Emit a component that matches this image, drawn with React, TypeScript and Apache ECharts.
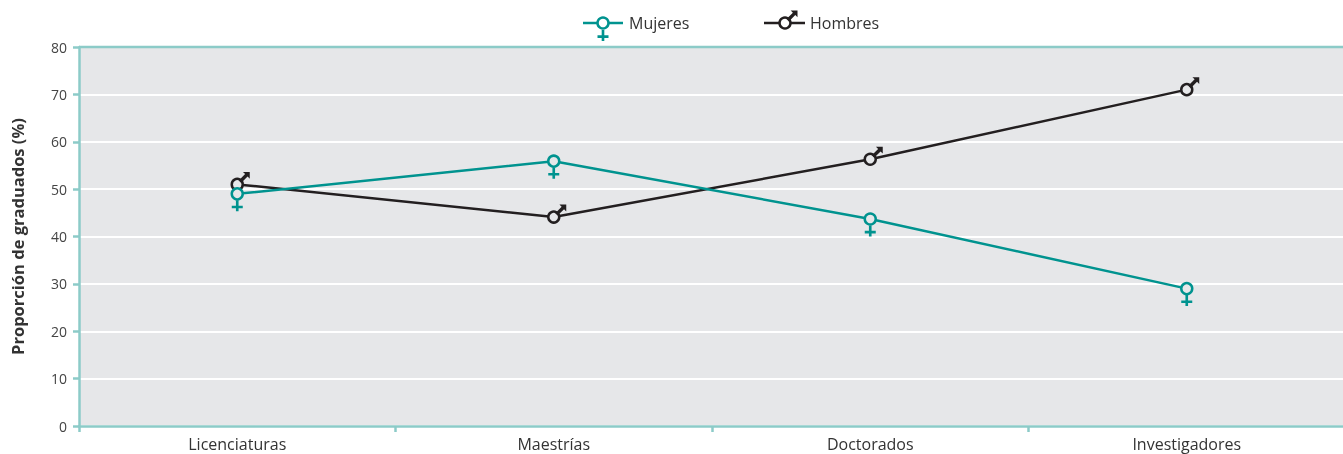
import React, { useEffect, useRef } from "react";
import * as echarts from "echarts";

const categories = ["Licenciaturas", "Maestrías", "Doctorados", "Investigadores"];
const mujeres = [49.0, 55.9, 43.7, 29.0];
const hombres = [51.0, 44.1, 56.3, 71.0];
const seriesNames = ["Mujeres", "Hombres"];
const yTicks = { min: 0, max: 80, interval: 10 };

const TEAL = "#00938f";
const BLACK = "#231f20";
const AXIS = "#8ccbc8";
const BG = "#e6e7e9";
const FONT = "'Open Sans', 'Noto Sans', sans-serif";

const VENUS_PATH = "path://M3.8,0H6.2V4.8H10V7.2H6.2V10H3.8V7.2H0V4.8H3.8Z";
const MARS_PATH = "path://M3.5,0L10,0L10,6.5L7.9,4.4L1.8,10.5L-0.5,8.2L5.6,2.1Z";

const venusPts = [[3.8,0],[6.2,0],[6.2,4.8],[10,4.8],[10,7.2],[6.2,7.2],[6.2,10],[3.8,10],[3.8,7.2],[0,7.2],[0,4.8],[3.8,4.8]];
const marsPts = [[3.5,0],[10,0],[10,6.5],[7.9,4.4],[1.8,10.5],[-0.5,8.2],[5.6,2.1]];

function pts(list: number[][], x0: number, y0: number, s: number) {
  return list.map(([x, y]) => [x0 + x * s, y0 + y * s]);
}

export default function App() {
  const ref = useRef<HTMLDivElement>(null);
  useEffect(() => {
    const chart = echarts.init(ref.current!, null, { renderer: "svg" });
    const legendY = 23;
    const mx = 603;
    const hx = 785;
    chart.setOption({
      animation: false,
      grid: {
        left: 79,
        right: -2,
        top: 47,
        bottom: 28,
        show: true,
        backgroundColor: BG,
        borderWidth: 0,
        outerBoundsMode: "none",
        containLabel: false,
      },
      xAxis: {
        type: "category",
        data: categories,
        boundaryGap: true,
        axisLine: { show: true, lineStyle: { color: AXIS, width: 2.5 } },
        axisTick: { show: true, length: 6, lineStyle: { color: AXIS, width: 2.5 } },
        axisLabel: { color: "#333", fontSize: 16, fontFamily: FONT, margin: 10 },
        splitLine: { show: false },
      },
      yAxis: {
        type: "value",
        min: yTicks.min,
        max: yTicks.max,
        interval: yTicks.interval,
        name: "Proporción de graduados (%)",
        nameLocation: "middle",
        nameGap: 53,
        nameRotate: 90,
        nameTextStyle: { color: "#333", fontSize: 16.5, fontWeight: "bold", fontFamily: FONT },
        axisLine: { show: true, lineStyle: { color: AXIS, width: 2.5 } },
        axisTick: { show: true, length: 6, lineStyle: { color: AXIS, width: 2.5 } },
        axisLabel: { color: "#444", fontSize: 14, fontFamily: FONT, margin: 12 },
        splitLine: { show: true, lineStyle: { color: "#ffffff", width: 2 } },
      },
      graphic: [
        { type: "line", shape: { x1: 79, y1: 47, x2: 1343, y2: 47 }, style: { stroke: AXIS, lineWidth: 2.5 }, z: 10 },
        { type: "line", shape: { x1: 583, y1: legendY, x2: 623, y2: legendY }, style: { stroke: TEAL, lineWidth: 2.5 } },
        { type: "circle", shape: { cx: mx, cy: legendY, r: 5.5 }, style: { fill: "#fff", stroke: TEAL, lineWidth: 2.5 } },
        { type: "polygon", shape: { points: pts(venusPts, mx - 5.5, legendY + 7, 1.1) }, style: { fill: TEAL } },
        { type: "text", x: 629, y: legendY, style: { text: seriesNames[0], fill: "#333", fontSize: 16, fontFamily: FONT, verticalAlign: "middle" } },
        { type: "line", shape: { x1: 764, y1: legendY, x2: 805, y2: legendY }, style: { stroke: BLACK, lineWidth: 2.5 } },
        { type: "circle", shape: { cx: hx, cy: legendY, r: 5.5 }, style: { fill: "#fff", stroke: BLACK, lineWidth: 2.5 } },
        { type: "polygon", shape: { points: pts(marsPts, hx + 2, legendY - 12.5, 1.05) }, style: { fill: BLACK } },
        { type: "text", x: 810, y: legendY, style: { text: seriesNames[1], fill: "#333", fontSize: 16, fontFamily: FONT, verticalAlign: "middle" } },
      ],
      series: [
        {
          name: seriesNames[0],
          type: "line",
          data: mujeres,
          symbol: "circle",
          symbolSize: 11,
          lineStyle: { color: TEAL, width: 2.5 },
          itemStyle: { color: BG, borderColor: TEAL, borderWidth: 2.5 },
          z: 3,
        },
        {
          name: seriesNames[0] + "-glyph",
          type: "scatter",
          data: mujeres,
          symbol: VENUS_PATH,
          symbolSize: [11, 11],
          symbolOffset: [0, 12],
          itemStyle: { color: TEAL, opacity: 1 },
          z: 4,
        },
        {
          name: seriesNames[1],
          type: "line",
          data: hombres,
          symbol: "circle",
          symbolSize: 11,
          lineStyle: { color: BLACK, width: 2.5 },
          itemStyle: { color: BG, borderColor: BLACK, borderWidth: 2.5 },
          z: 2,
        },
        {
          name: seriesNames[1] + "-glyph",
          type: "scatter",
          data: hombres,
          symbol: MARS_PATH,
          symbolSize: [11, 11],
          symbolOffset: [7, -7],
          itemStyle: { color: BLACK, opacity: 1 },
          z: 2,
        },
      ],
    });
    return () => chart.dispose();
  }, []);
  return <div ref={ref} style={{ position: "fixed", left: 0, top: 0, width: 1343, height: 454 }} />;
}
